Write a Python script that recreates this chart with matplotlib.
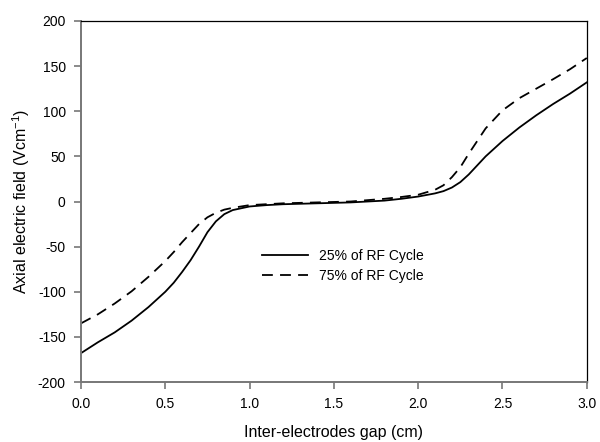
import matplotlib
matplotlib.use("Agg")
import matplotlib.pyplot as plt

plt.rcParams['font.family'] = ['Liberation Sans', 'DejaVu Sans']
plt.rcParams['axes.unicode_minus'] = False

gap = [0, 0.1, 0.2, 0.3, 0.4, 0.5, 0.55, 0.6, 0.65, 0.7, 0.75, 0.8, 0.85, 0.9,
       1.0, 1.1, 1.2, 1.4, 1.6, 1.8, 1.9, 2.0, 2.1, 2.15, 2.2, 2.25, 2.3, 2.35,
       2.4, 2.5, 2.6, 2.7, 2.8, 2.9, 3.0]
field_25 = [-168, -156, -145, -132, -117, -100, -90, -78, -65, -50, -34, -22, -14, -9.5,
            -5.5, -4, -3, -2, -1, 1, 3, 5.5, 9, 11.5, 15.5, 21.5, 30, 40,
            50, 67, 82, 95.5, 108, 119.5, 132]
field_75 = [-135, -125, -113, -99.5, -83.5, -66, -56, -45, -35, -25, -17.5, -12.5, -9, -7,
            -4, -3, -2, -1, 0, 3, 5, 7.5, 13, 18, 27, 38, 53, 67,
            81, 101, 114.5, 125, 135.5, 146.5, 159]
labels = ["25% of RF Cycle", "75% of RF Cycle"]
xticks = [0.0, 0.5, 1.0, 1.5, 2.0, 2.5, 3.0]
yticks = [-200, -150, -100, -50, 0, 50, 100, 150, 200]

fig = plt.figure(figsize=(6.0, 4.42), dpi=100)
ax = fig.add_axes([0.135, 0.1357, 0.843, 0.8168])

ax.plot(gap, field_25, color='black', lw=1.3, ls='-', label=labels[0])
ax.plot(gap, field_75, color='black', lw=1.3, ls=(0, (6, 4)), label=labels[1])

ax.set_xlim(0, 3)
ax.set_ylim(-200, 200)
ax.set_xticks(xticks)
ax.set_xticklabels([f"{t:.1f}" for t in xticks])
ax.set_yticks(yticks)
ax.set_yticklabels([str(t) for t in yticks])

for s in ['left', 'bottom']:
    ax.spines[s].set_color('#777777')
    ax.spines[s].set_linewidth(1.4)
for s in ['top', 'right']:
    ax.spines[s].set_color('black')
    ax.spines[s].set_linewidth(0.9)

ax.tick_params(direction='out', length=5, width=1.2, color='#777777',
               labelsize=10, labelcolor='black', pad=6)

ax.set_xlabel("Inter-electrodes gap (cm)", fontsize=11.5, labelpad=10)
ax.set_ylabel(r"Axial electric field (Vcm$^{\mathregular{-1}}$)", fontsize=11.5, labelpad=4)

ax.legend(loc='center left', bbox_to_anchor=(0.358, 0.322), frameon=False,
          fontsize=10, handlelength=3.3, handletextpad=0.8, labelspacing=0.4,
          borderaxespad=0, borderpad=0)

fig.savefig("out.png", dpi=100)
